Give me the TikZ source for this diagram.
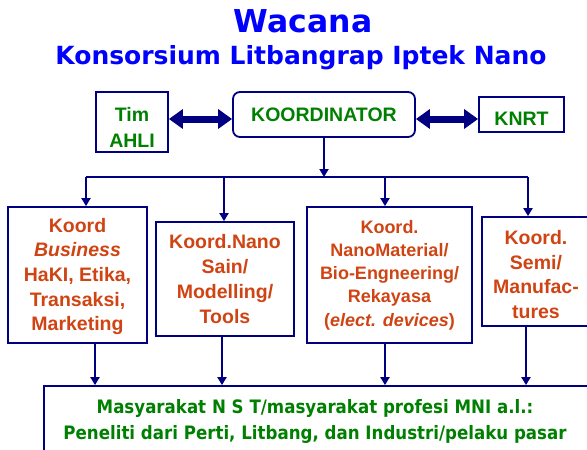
\documentclass[tikz,border=0pt]{standalone}
\usepackage{fontspec}
\setmainfont{Liberation Sans}
\newfontfamily\verd{DejaVu Sans}
\newfontfamily\tah{DejaVu Sans}[FakeStretch=0.9]
\usetikzlibrary{arrows.meta}
\definecolor{navy}{RGB}{0,0,128}
\definecolor{ored}{RGB}{208,68,20}
\definecolor{dgreen}{RGB}{0,128,0}
\definecolor{tblue}{RGB}{0,0,255}
\begin{document}
\begin{tikzpicture}[x=1pt,y=-1pt,
  box/.style={draw=navy, line width=1.8pt, inner sep=0pt, align=center},
  redtxt/.style={text=ored, font=\fontsize{19.5}{24.7}\selectfont\bfseries},
  redsmall/.style={text=ored, font=\fontsize{18}{23.3}\selectfont\bfseries},
  greentxt/.style={text=dgreen, font=\fontsize{19.5}{26}\selectfont\bfseries},
  titletxt/.style={text=tblue, inner sep=0pt},
  dbl/.style={navy, line width=7pt, {Triangle[length=14pt,width=19pt]}-{Triangle[length=14pt,width=19pt]}},
  feed/.style={navy, line width=2.6pt, -{Triangle[length=8pt,width=9pt]}},
  busline/.style={navy, line width=2.6pt}
]
\useasboundingbox (0,0) rectangle (587,450);
\fill[white] (0,0) rectangle (587,450);

% titles
\node[titletxt, font=\verd\fontsize{31.5}{36}\selectfont\bfseries, anchor=base] (t1) at (303,32) {Wacana};
\node[titletxt, font=\verd\fontsize{25}{30}\selectfont\bfseries, anchor=base] (t2) at (301,64) {Konsorsium Litbangrap Iptek Nano};

% top row
\node[box, greentxt, minimum width=72pt, minimum height=60pt] (tim) at (132,122) {\rule{0pt}{24pt}Tim\\AHLI};
\node[box, greentxt, rounded corners=7pt, minimum width=182pt, minimum height=45pt] (koord) at (324,114.5) {KOORDINATOR};
\node[box, greentxt, minimum width=85pt, minimum height=35pt, text height=22pt, text depth=0pt] (knrt) at (521.5,114.5) {KNRT};

\draw[dbl] (tim.east |- 0,119) -- (koord.west |- 0,119);
\draw[dbl] (koord.east |- 0,119) -- (knrt.west |- 0,119);

% coordinator boxes
\node[box, redtxt, minimum width=139pt, minimum height=136pt] (b1) at (77.5,275) {\rule{0pt}{17pt}Koord\\\textit{Business}\\HaKI, Etika,\\Transaksi,\\Marketing};
\node[box, redtxt, minimum width=138pt, minimum height=114pt] (b2) at (225,279) {Koord.Nano\\Sain/\\Modelling/\\Tools};
\node[box, redsmall, minimum width=165pt, minimum height=136pt] (b3) at (389.5,275) {Koord.\\NanoMaterial/\\Bio-Engneering/\\Rekayasa\\(\textit{elect. devices})};
\node[box, redtxt, minimum width=108pt, minimum height=109pt] (b4) at (536,271.5) {\rule{0pt}{20pt}Koord.\\Semi/\\Manufac-\\tures};

% bus
\coordinate (busL) at (86,177);
\coordinate (busR) at (528,177);
\draw[busline] (busL) -- (busR);
\draw[feed] (koord.south) -- (koord.south |- busL);
\draw[feed] (busL) -- (b1.north -| busL);
\draw[feed] (224,177) -- (b2.north -| 224,0);
\draw[feed] (385,177) -- (b3.north -| 385,0);
\draw[feed] (busR) -- (b4.north -| busR);

% bottom box
\node[box, minimum width=548pt, minimum height=68pt] (soc) at (318,420) {};
\node[text=dgreen, font=\tah\fontsize{18.5}{26}\selectfont\bfseries, align=center, inner sep=0pt] (soctxt) at (315,421) {Masyarakat N S T/masyarakat profesi MNI a.l.:\\Peneliti dari Perti, Litbang, dan Industri/pelaku pasar};

\draw[feed] (b1.south -| 95,0) -- (soc.north -| 95,0);
\draw[feed] (b2.south -| 222,0) -- (soc.north -| 222,0);
\draw[feed] (b3.south -| 385,0) -- (soc.north -| 385,0);
\draw[feed] (b4.south -| 526,0) -- (soc.north -| 526,0);
\end{tikzpicture}
\end{document}
